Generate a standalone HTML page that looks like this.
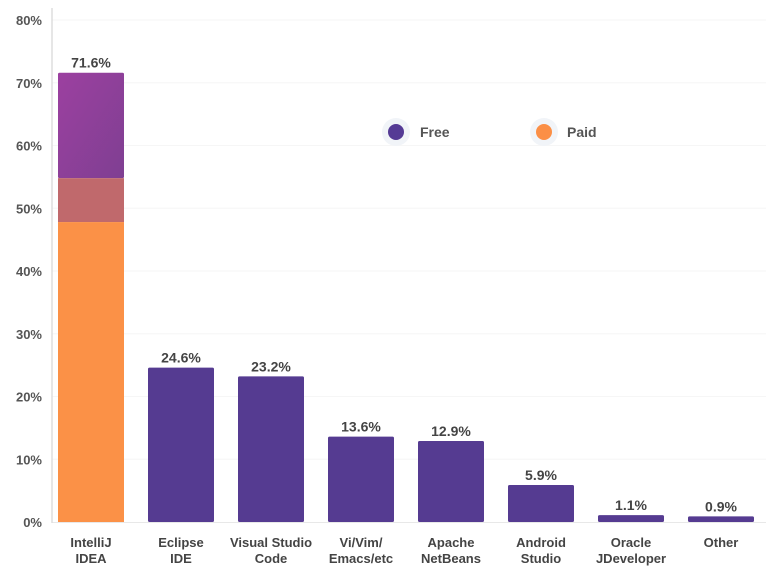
<!DOCTYPE html>
<html><head><meta charset="utf-8">
<style>
body{margin:0;background:#fff;}
svg{display:block;font-family:"Liberation Sans",Arial,sans-serif;}
</style></head>
<body>
<svg id="chart" width="775" height="587">
<defs>
<linearGradient id="pg" x1="0" y1="0" x2="1" y2="1">
<stop offset="0" stop-color="#9c40a0"/><stop offset="1" stop-color="#7f3f92"/>
</linearGradient>
</defs>
<g id="grid"></g><g id="bars"></g><g id="labels"></g>
<line x1="52" y1="8" x2="52" y2="523" stroke="#ddd" stroke-width="1.5"/>
<g>
<g>
<circle cx="396" cy="132" r="14" fill="#f1f4f8"/><circle cx="396" cy="132" r="8" fill="#553b95"/>
<text x="420" y="137" font-size="14" font-weight="bold" fill="#555">Free</text></g>
<g>
<circle cx="544" cy="132" r="14" fill="#f1f4f8"/><circle cx="544" cy="132" r="8" fill="#fb8f46"/>
<text x="567" y="137" font-size="14" font-weight="bold" fill="#555">Paid</text></g>
</g>
</svg>
<script>
const categories=[["IntelliJ","IDEA"],["Eclipse","IDE"],["Visual Studio","Code"],["Vi/Vim/","Emacs/etc"],["Apache","NetBeans"],["Android","Studio"],["Oracle","JDeveloper"],["Other"]];
const totals=[71.6,24.6,23.2,13.6,12.9,5.9,1.1,0.9];
const paidValues=[54.8,0,0,0,0,0,0,0];
const freeStart=[47.8,0,0,0,0,0,0,0];
const yTicks=[0,10,20,30,40,50,60,70,80];
const NS="http://www.w3.org/2000/svg";
const y=v=>522-v*6.275;
const xC=i=>91+i*90;
const bw=66;
function mk(t,a,p){const e=document.createElementNS(NS,t);for(const k in a)e.setAttribute(k,a[k]);p.appendChild(e);return e;}
const grid=document.getElementById('grid'),bars=document.getElementById('bars'),labels=document.getElementById('labels');
yTicks.forEach(t=>{
 if(t>0){const l=mk('line',{x1:52,x2:766,y1:y(t),y2:y(t),stroke:'#f6f6f6','stroke-width':1},grid);
 
 }
 const tx=mk('text',{x:42,y:y(t)+5,'text-anchor':'end','font-size':13,'font-weight':'bold',fill:'#555'},labels);
 tx.textContent=t+'%';
 
 
});
mk('line',{x1:52,x2:766,y1:522.5,y2:522.5,stroke:'#e8e8e8','stroke-width':1},grid);
totals.forEach((v,i)=>{
 const x0=xC(i)-bw/2;
 if(paidValues[i]>0){
  const top=mk('rect',{x:x0,y:y(v),width:bw,height:y(paidValues[i])-y(v),fill:'url(#pg)',rx:1.5},bars);
  
  
  const ov=mk('rect',{x:x0,y:y(paidValues[i]),width:bw,height:y(freeStart[i])-y(paidValues[i]),fill:'#c0696c'},bars);
  
  
  const pd=mk('rect',{x:x0,y:y(freeStart[i]),width:bw,height:y(0)-y(freeStart[i]),fill:'#fb9147'},bars);
  
  
 } else {
  const r=mk('rect',{x:x0,y:y(v),width:bw,height:y(0)-y(v),fill:'#553b91',rx:1.5},bars);
  
  
 }
 const vl=mk('text',{x:xC(i),y:y(v)-5,'text-anchor':'middle','font-size':14,'font-weight':'bold',fill:'#444'},labels);
 vl.textContent=v.toFixed(1)+'%';
 
 
 categories[i].forEach((s,j)=>{
  const c=mk('text',{x:xC(i),y:547+j*16,'text-anchor':'middle','font-size':13,'font-weight':'bold',fill:'#444'},labels);
  c.textContent=s;
  
  
 });
});
</script>
</body></html>
